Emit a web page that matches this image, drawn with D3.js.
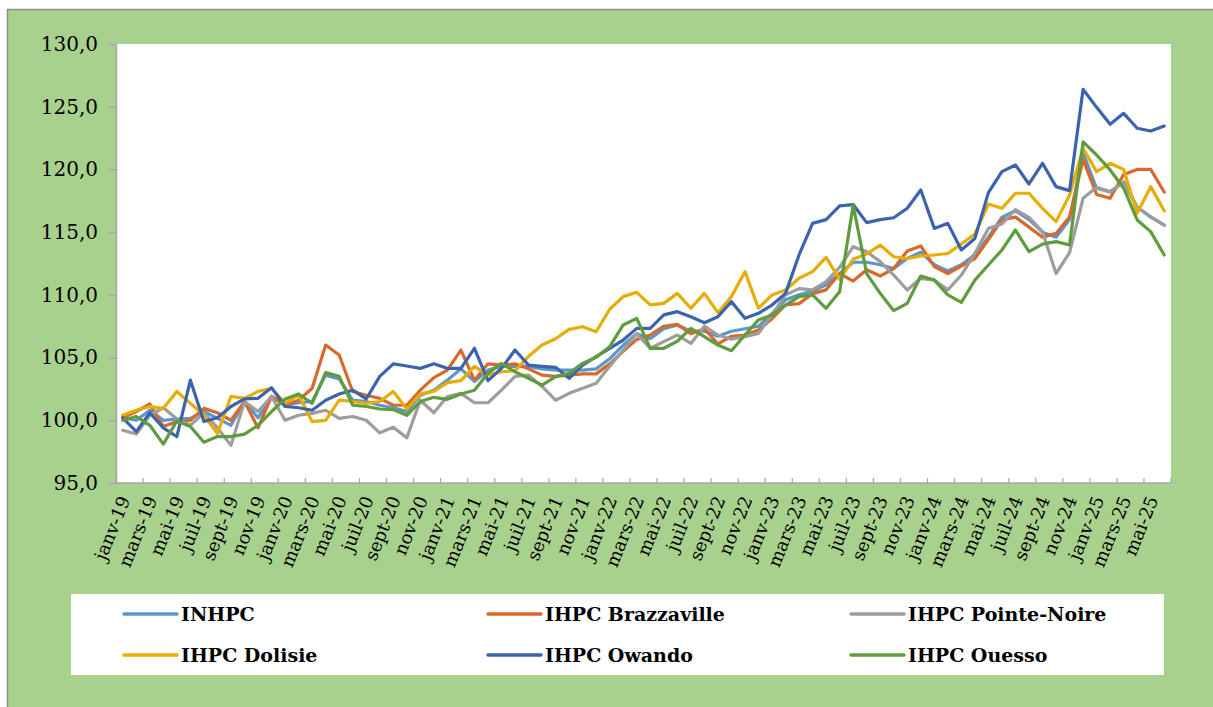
<!DOCTYPE html>
<html>
<head>
<meta charset="utf-8">
<script src="https://cdn.jsdelivr.net/npm/d3@7/dist/d3.min.js"></script>
<style>
body { margin: 0; background: #fff; }
.line { fill: none; stroke-width: 3.2; stroke-linejoin: round; stroke-linecap: round; }
</style>
</head>
<body>
<script>
// categories (one per month)
var months = [
    "janv-19", "févr-19", "mars-19", "avr-19", "mai-19", "juin-19", "juil-19", "août-19", "sept-19", "oct-19", "nov-19", "déc-19",
    "janv-20", "févr-20", "mars-20", "avr-20", "mai-20", "juin-20", "juil-20", "août-20", "sept-20", "oct-20", "nov-20", "déc-20",
    "janv-21", "févr-21", "mars-21", "avr-21", "mai-21", "juin-21", "juil-21", "août-21", "sept-21", "oct-21", "nov-21", "déc-21",
    "janv-22", "févr-22", "mars-22", "avr-22", "mai-22", "juin-22", "juil-22", "août-22", "sept-22", "oct-22", "nov-22", "déc-22",
    "janv-23", "févr-23", "mars-23", "avr-23", "mai-23", "juin-23", "juil-23", "août-23", "sept-23", "oct-23", "nov-23", "déc-23",
    "janv-24", "févr-24", "mars-24", "avr-24", "mai-24", "juin-24", "juil-24", "août-24", "sept-24", "oct-24", "nov-24", "déc-24",
    "janv-25", "févr-25", "mars-25", "avr-25", "mai-25", "juin-25"
];

var yTicks = [95, 100, 105, 110, 115, 120, 125, 130];

// series values
var inhpc = [
    100.2, 100.0, 100.8, 100.0, 100.1, 100.15, 100.7, 100.15, 99.6, 101.5, 100.2, 101.9,
    101.2, 101.4, 101.5, 103.6, 103.3, 101.6, 101.5, 101.2, 101.0, 100.7, 102.0, 102.4,
    103.2, 104.1, 103.1, 104.0, 104.3, 104.3, 104.3, 104.1, 104.0, 104.0, 104.0, 104.1,
    104.9, 106.0, 106.9, 106.5, 107.3, 107.6, 107.1, 107.1, 106.7, 107.1, 107.3, 107.5,
    108.5, 109.6, 110.0, 110.3, 110.8, 111.7, 112.6, 112.6, 112.4, 112.1, 112.9, 113.4,
    112.4, 111.9, 112.4, 113.2, 114.6, 116.2, 116.7, 116.0, 115.0, 114.6, 116.0, 121.3,
    118.5, 118.2, 119.0, 117.0, 116.2, 115.55
];
var brazzaville = [
    100.2, 100.7, 101.3, 99.5, 99.9, 100.0, 100.95, 100.6, 100.0, 101.5, 99.4, 101.9,
    101.2, 101.6, 102.55, 106.0, 105.2, 102.3, 102.0, 101.75, 101.2, 101.2, 102.4, 103.4,
    104.0, 105.6, 103.2, 104.5, 104.4, 104.5, 104.1, 103.6, 103.5, 103.6, 103.7, 103.7,
    104.5, 105.5, 106.45, 106.8, 107.5, 107.65, 106.9, 107.3, 106.1, 106.7, 106.8, 107.2,
    108.1, 109.2, 109.3, 110.1, 110.4, 111.7, 111.1, 112.0, 111.5, 112.1, 113.5, 113.9,
    112.25, 111.7, 112.3, 112.9, 114.4, 116.0, 116.2, 115.4, 114.6, 114.9, 116.2, 120.8,
    118.0, 117.7, 119.6, 120.0, 120.0, 118.2
];
var pointeNoire = [
    99.2, 98.9, 100.4, 101.0, 100.1, 99.6, 100.6, 99.4, 98.0, 101.5, 100.7, 101.9,
    100.0, 100.4, 100.55, 100.8, 100.15, 100.3, 100.0, 99.0, 99.45, 98.6, 101.6, 100.6,
    101.9, 102.15, 101.4, 101.4, 102.4, 103.5, 103.6, 102.7, 101.6, 102.15, 102.55, 102.95,
    104.3, 105.6, 106.9, 105.74, 106.27, 106.8, 106.13, 107.5, 106.8, 106.46, 106.67, 106.93,
    108.4, 110.0, 110.5, 110.4, 111.05, 112.2, 113.84, 113.44, 112.65, 111.58, 110.39, 111.32,
    111.18, 110.4, 111.58, 113.3, 115.3, 115.65, 116.8, 116.18, 115.04, 111.7, 113.37, 117.7,
    118.57, 118.23, 119.0, 116.98, 116.23, 115.57
];
var dolisie = [
    100.4, 100.8, 101.1, 100.95, 102.3, 101.35, 100.4, 98.95, 101.9, 101.75, 102.3, 102.55,
    101.35, 102.0, 99.9, 100.0, 101.6, 101.5, 101.35, 101.5, 102.3, 100.9, 102.1, 102.3,
    103.0, 103.16, 104.3, 103.6, 103.87, 103.95, 105.1, 106.0, 106.5, 107.25, 107.46, 107.06,
    108.85, 109.86, 110.2, 109.2, 109.32, 110.12, 108.93, 110.12, 108.58, 109.86, 111.85, 108.93,
    109.99, 110.39, 111.32, 111.85, 112.99, 111.24, 112.83, 113.26, 113.97, 113.04, 112.9, 113.1,
    113.18, 113.3, 114.05, 114.85, 117.24, 116.9, 118.1, 118.1, 116.9, 115.84, 117.96, 121.68,
    119.82, 120.49, 120.0, 116.5, 118.63, 116.7
];
var owando = [
    100.2, 99.1, 100.6, 99.4, 98.7, 103.2, 99.9, 100.2, 101.1, 101.7, 101.75, 102.6,
    101.1, 101.0, 100.8, 101.6, 102.1, 102.4, 101.7, 103.5, 104.5, 104.33, 104.14, 104.5,
    104.14, 104.14, 105.74, 103.16, 104.14, 105.6, 104.4, 104.3, 104.22, 103.35, 104.4, 105.07,
    105.74, 106.4, 107.33, 107.33, 108.4, 108.66, 108.26, 107.78, 108.26, 109.46, 108.13, 108.53,
    109.19, 110.12, 113.18, 115.7, 116.0, 117.1, 117.2, 115.76, 116.0, 116.15, 116.9, 118.36,
    115.3, 115.7, 113.58, 114.5, 118.15, 119.82, 120.35, 118.84, 120.49, 118.63, 118.31, 126.39,
    124.95, 123.6, 124.47, 123.28, 123.06, 123.46
];
var ouesso = [
    100.0, 100.3, 99.6, 98.1, 99.95, 99.5, 98.25, 98.7, 98.7, 98.9, 99.6, 100.7,
    101.7, 102.1, 101.35, 103.8, 103.5, 101.2, 101.1, 100.9, 100.85, 100.4, 101.5, 101.83,
    101.67, 102.1, 102.4, 103.74, 104.54, 103.87, 103.35, 102.8, 103.48, 103.74, 104.54, 105.02,
    105.87, 107.6, 108.13, 105.74, 105.74, 106.3, 107.33, 106.67, 106.0, 105.55, 106.8, 108.0,
    108.4, 109.19, 109.86, 109.99, 108.93, 110.25, 117.16, 111.7, 110.12, 108.74, 109.32, 111.5,
    111.18, 110.0, 109.4, 111.18, 112.38, 113.58, 115.17, 113.44, 114.05, 114.24, 113.97, 122.2,
    121.15, 119.96, 118.5, 115.97, 115.04, 113.18
];

var seriesNames = ["INHPC", "IHPC Brazzaville", "IHPC Pointe-Noire", "IHPC Dolisie", "IHPC Owando", "IHPC Ouesso"];
var seriesValues = [inhpc, brazzaville, pointeNoire, dolisie, owando, ouesso];
var colors = ["#5b96cf", "#d9692a", "#9d9d9d", "#e6ad05", "#3c64ae", "#5f9c3d"];

// set the dimensions and margins of the graph
var margin = {top: 44, right: 42, bottom: 224, left: 116},
    width = 1213 - margin.left - margin.right,
    height = 707 - margin.top - margin.bottom;

var root = d3.select("body").append("svg")
    .attr("width", 1213)
    .attr("height", 707)
    .style("display", "block");

// green chart area
root.append("rect")
    .attr("x", 7.5).attr("y", 9.5)
    .attr("width", 1220).attr("height", 710)
    .attr("fill", "#a9d18e")
    .attr("stroke", "#8e8e8e")
    .attr("stroke-width", 1.5);

var svg = root.append("g")
    .attr("transform", "translate(" + margin.left + "," + margin.top + ")");

// plot area
svg.append("rect")
    .attr("width", width).attr("height", height)
    .attr("fill", "#fff");

// set the ranges
var x = d3.scaleBand().domain(months).range([0, width]);
var y = d3.scaleLinear().domain([95, 130]).range([height, 0]);
var bw = x.bandwidth();

// Y axis
var yAxis = svg.append("g")
    .call(d3.axisLeft(y).tickValues(yTicks).tickSize(7).tickSizeOuter(0).tickPadding(11)
        .tickFormat(function(d) { return d.toFixed(1).replace(".", ","); }));
yAxis.select(".domain").attr("stroke", "#a6a6a6").attr("stroke-width", 1.5);
yAxis.selectAll(".tick line").attr("stroke", "#a6a6a6").attr("stroke-width", 1.5);
yAxis.selectAll("text")
    .style("font-family", "'DejaVu Serif', serif")
    .style("font-size", "20px")
    .attr("fill", "#000");

// X axis: ticks between every second month, labels on every second month
var xAxis = svg.append("g").attr("transform", "translate(0," + height + ")");
xAxis.append("line")
    .attr("x1", 0).attr("x2", width)
    .attr("stroke", "#a6a6a6").attr("stroke-width", 1.5);

var tickMonths = months.filter(function(d, i) { return i % 2 === 0; });
xAxis.selectAll(".xtick")
    .data(tickMonths.concat([null]))
    .enter().append("line")
    .attr("class", "xtick")
    .attr("x1", function(d) { return d === null ? width : x(d); })
    .attr("x2", function(d) { return d === null ? width : x(d); })
    .attr("y1", 0).attr("y2", -5)
    .attr("stroke", "#a6a6a6").attr("stroke-width", 1.2);

xAxis.selectAll(".xlabel")
    .data(tickMonths)
    .enter().append("text")
    .attr("class", "xlabel")
    .attr("transform", function(d) {
        return "translate(" + (x(d) + bw / 2 + 2) + "," + 14 + ") rotate(-68)";
    })
    .attr("dy", ".35em")
    .attr("text-anchor", "end")
    .style("font-family", "'DejaVu Serif', serif")
    .style("font-size", "18px")
    .attr("fill", "#000")
    .text(function(d) { return d; });

// lines
var valueline = d3.line()
    .x(function(d, i) { return x(months[i]) + bw / 2; })
    .y(function(d) { return y(d); });

seriesValues.forEach(function(vals, k) {
    svg.append("path")
        .datum(vals)
        .attr("class", "line")
        .style("stroke", colors[k])
        .attr("d", valueline);
});

// legend
root.append("rect")
    .attr("x", 71).attr("y", 594)
    .attr("width", 1093).attr("height", 81)
    .attr("fill", "#fff");

var legendX = [124, 488, 851];
var legendY = [614, 655];
seriesNames.forEach(function(name, k) {
    var lx = legendX[k % 3], ly = legendY[Math.floor(k / 3)];
    root.append("line")
        .attr("x1", lx).attr("x2", lx + 53)
        .attr("y1", ly).attr("y2", ly)
        .attr("stroke", colors[k])
        .attr("stroke-width", 3.5)
        .attr("stroke-linecap", "round");
    root.append("text")
        .attr("x", lx + 57).attr("y", ly)
        .attr("dy", ".35em")
        .style("font-family", "'DejaVu Serif', serif")
        .style("font-size", "19px")
        .style("font-weight", "bold")
        .attr("fill", "#000")
        .text(name);
});
</script>
</body>
</html>
